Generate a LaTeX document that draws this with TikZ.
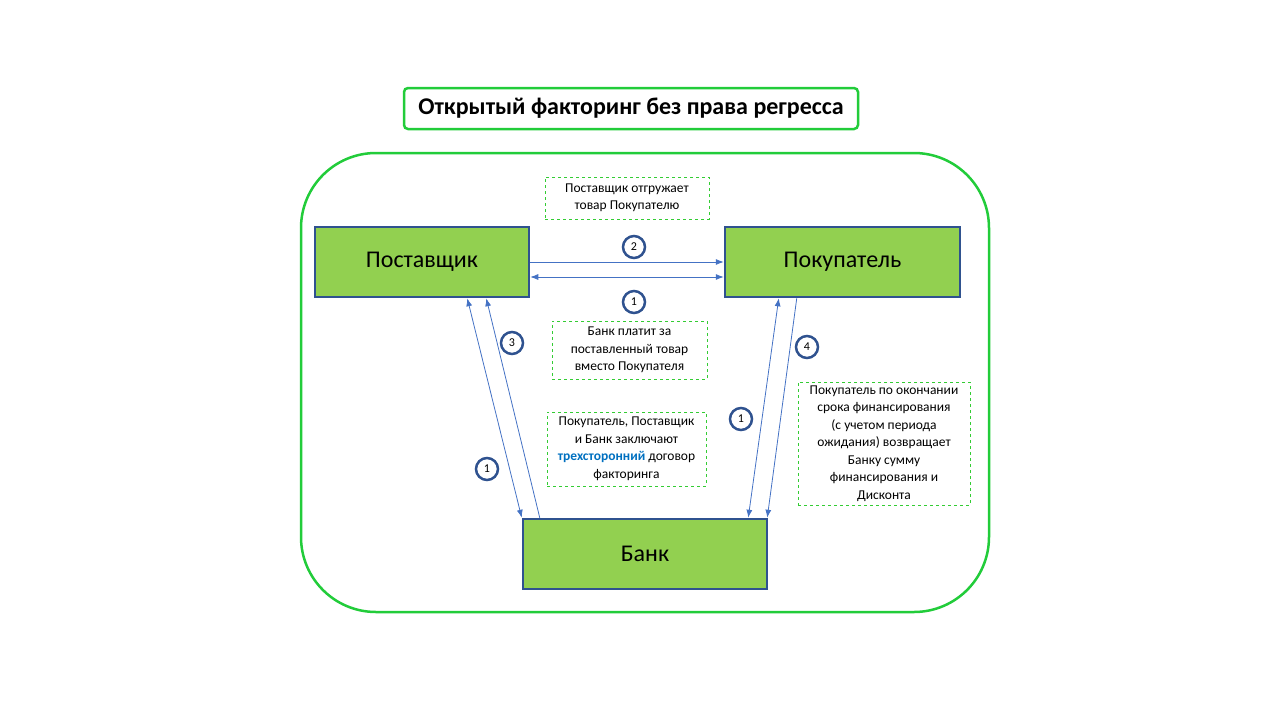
\documentclass[tikz,border=0pt]{standalone}
\usepackage{fontspec}
\setmainfont{Carlito}
\usetikzlibrary{arrows.meta}
\definecolor{boxgreen}{HTML}{92D050}
\definecolor{boxblue}{HTML}{2F528F}
\definecolor{framegreen}{HTML}{22CC3A}
\definecolor{dashgreen}{HTML}{33CC33}
\definecolor{arrblue}{HTML}{4472C4}
\definecolor{txtblue}{HTML}{0070C0}
\tikzset{
  party/.style={draw=boxblue, fill=boxgreen, line width=2.5pt, minimum height=70, font=\fontsize{24}{28}\selectfont},
  note/.style={draw=dashgreen, dashed, line width=0.7pt, align=center, font=\fontsize{13.5}{17.5}\selectfont},
  num/.style={circle, draw=boxblue, line width=2.5pt, minimum size=22, inner sep=0pt, font=\fontsize{12}{12}\selectfont},
  arr/.style={draw=arrblue, line width=0.8pt, -{Latex[length=8pt,width=6pt]}},
  darr/.style={draw=arrblue, line width=0.8pt, {Latex[length=8pt,width=6pt]}-{Latex[length=8pt,width=6pt]}}
}
\begin{document}
\begin{tikzpicture}[x=1pt, y=-1pt]
  \useasboundingbox (0,0) rectangle (1280,720);
  % frames
  \draw[framegreen, line width=2.5pt, rounded corners=75] (301,153) rectangle (989,612);
  \node[draw=framegreen, line width=2.5pt, rounded corners=4, fill=white, minimum width=454, minimum height=41,
    font=\fontsize{24}{28}\selectfont\bfseries] (title) at (631,108.5) {Открытый факторинг без права регресса};
  % parties
  \node[party, minimum width=214] (post) at (422,262) {Поставщик};
  \node[party, minimum width=235] (pok) at (842.5,262) {Покупатель};
  \node[party, minimum width=244] (bank) at (645,554) {Банк};
  % notes
  \node[note, minimum width=164, minimum height=42] (ship) at (627,198) {Поставщик отгружает\\товар Покупателю};
  \node[note, minimum width=155, minimum height=58] (pay) at (629.5,350) {Банк платит за\\поставленный товар\\вместо Покупателя};
  \node[note, minimum width=159, minimum height=74] (deal) at (626.5,449) {Покупатель, Поставщик\\и Банк заключают\\{\bfseries\color{txtblue}трехсторонний} договор\\факторинга};
  \node[note, minimum width=172, minimum height=123] (ret) at (884,443.5) {Покупатель по окончании\\срока финансирования\\(с учетом периода\\ожидания) возвращает\\Банку сумму\\финансирования и\\Дисконта};
  % steps
  \node[num] (n2) at (634,247) {2};
  \node[num] (n1a) at (634,302) {1};
  \node[num] (n3) at (512,343) {3};
  \node[num] (n4) at (807,347) {4};
  \node[num] (n1b) at (741,419) {1};
  \node[num] (n1c) at (487,469) {1};
  % connectors
  \begin{scope}
    \draw[arr] (post.east) -- (pok.west);
    \draw[darr] ([yshift=-15pt]post.east) -- ([yshift=-15pt]pok.west);
    \draw[darr] ([xshift=-63pt]post.south east) -- (bank.north west);
    \draw[arr] ([xshift=18pt]bank.north west) -- ([xshift=-44pt]post.south east);
    \draw[darr] ([xshift=55pt]pok.south west) -- ([xshift=-20pt]bank.north east);
    \draw[arr] ([xshift=73pt]pok.south west) -- ([xshift=-1pt]bank.north east);
  \end{scope}
\end{tikzpicture}
\end{document}
